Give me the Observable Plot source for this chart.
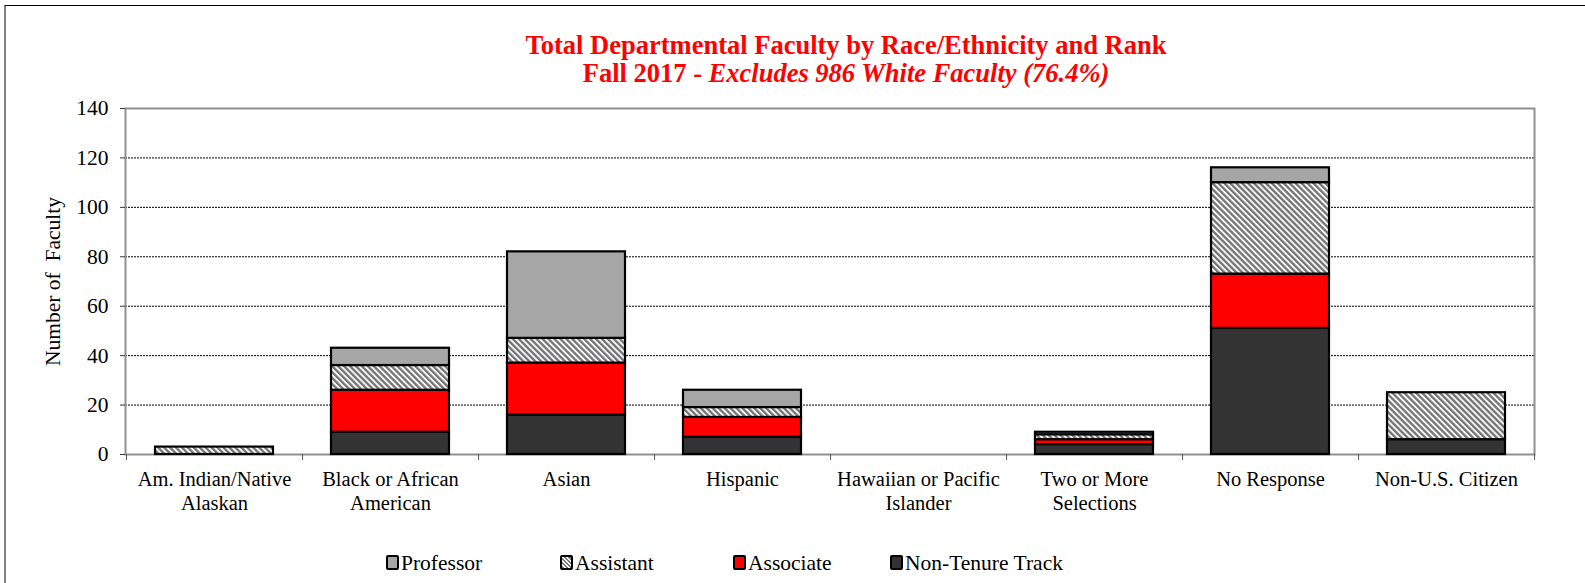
<!DOCTYPE html>
<html>
<head>
<meta charset="utf-8">
<script src="https://cdn.jsdelivr.net/npm/d3@7"></script>
<script src="https://cdn.jsdelivr.net/npm/@observablehq/plot@0.6"></script>
<style>
  html, body { margin: 0; padding: 0; background: #fff; }
  body { width: 1585px; height: 583px; position: relative; overflow: hidden; font-family: "Liberation Serif", "Times New Roman", serif; }
  #outer { position: absolute; left: 4px; top: 5px; width: 1600px; height: 600px; border-top: 1.5px solid #000; border-left: 2px solid #808080; }
  #chart { position: absolute; left: 0; top: 0; }
  div.ttl { position: absolute; left: 0; width: 1692px; text-align: center; color: #ff0000; font-weight: bold; font-size: 26.5px; line-height: 30px; font-family: "Liberation Serif", "Times New Roman", serif; }
  #legend { position: absolute; top: 550px; left: 0; width: 1585px; height: 26px; font-size: 21.5px; line-height: 26px; color: #000; font-family: "Liberation Serif", "Times New Roman", serif; }
  .item { position: absolute; top: 0; white-space: nowrap; }
  .sw { display: inline-block; width: 9px; height: 11px; border: 2px solid #000; border-radius: 2px; vertical-align: 0px; margin-right: 2px; }
</style>
</head>
<body>
<div id="outer"></div>
<div class="ttl" style="top:30px;">Total Departmental Faculty by Race/Ethnicity and Rank</div>
<div class="ttl" style="top:58px;">Fall 2017 - <i>Excludes 986 White Faculty (76.4%)</i></div>
<div id="chart"></div>
<div id="legend"></div>
<script>
const categories = [
  "Am. Indian/Native\nAlaskan",
  "Black or African\nAmerican",
  "Asian",
  "Hispanic",
  "Hawaiian or Pacific\nIslander",
  "Two or More\nSelections",
  "No Response",
  "Non-U.S. Citizen"
];
const series = ["Non-Tenure Track", "Associate", "Assistant", "Professor"];
const nonTenure = [0, 9, 16, 7, 0, 4, 51, 6];
const associate = [0, 17, 21, 8, 0, 2, 22, 0];
const assistant = [3, 10, 10, 4, 0, 2, 37, 19];
const professor = [0, 7, 35, 7, 0, 1, 6, 0];
const yTicks = [0, 20, 40, 60, 80, 100, 120, 140];
const legendOrder = ["Professor", "Assistant", "Associate", "Non-Tenure Track"];

const seriesValues = {
  "Non-Tenure Track": nonTenure,
  "Associate": associate,
  "Assistant": assistant,
  "Professor": professor
};
const fills = ["#333333", "#ff0000", "url(#hatch)", "#a6a6a6"];

const rows = [];
categories.forEach((c, i) => {
  series.forEach(s => {
    const v = seriesValues[s][i];
    if (v > 0) rows.push({category: c, rank: s, value: v});
  });
});

const W = 1585, H = 530;
const mL = 125, mR = 51, mT = 108, mB = H - 454;
const step = (W - mL - mR) / categories.length;
const FONT = "'Liberation Serif', 'Times New Roman', serif";

const plot = Plot.plot({
  width: W,
  height: H,
  marginLeft: mL,
  marginRight: mR,
  marginTop: mT,
  marginBottom: mB,
  style: {fontFamily: FONT, fontSize: "20px", color: "#000", background: "transparent"},
  x: {domain: categories, padding: 0, label: null},
  y: {domain: [0, 140], label: null},
  color: {domain: series, range: fills},
  marks: [
    Plot.gridY(yTicks.filter(d => d > 0), {stroke: "#000", strokeOpacity: 1, strokeWidth: 1, strokeDasharray: "2,1"}),
    Plot.frame({stroke: "#909090", strokeWidth: 2}),
    Plot.axisY(yTicks, {tickSize: 5, tickPadding: 12, fontSize: 21.5, stroke: "#333", label: null}),
    Plot.axisX(categories, {tickSize: 0, tickPadding: 14, fontSize: 20.5, lineHeight: 1.17, label: null}),
    Plot.axisX(categories, {tickSize: 6, dx: step / 2, tickFormat: () => "", stroke: "#555", label: null}),
    Plot.axisX(categories.slice(0, 1), {tickSize: 6, dx: -step / 2, tickFormat: () => "", stroke: "#555", label: null}),
    Plot.barY(rows, Plot.stackY({
      x: "category",
      y: "value",
      fill: "rank",
      z: "rank",
      order: series,
      insetLeft: 29,
      insetRight: 29,
      stroke: "#000",
      strokeWidth: 2.2
    })),
    Plot.text(["Number of  Faculty"], {
      frameAnchor: "left",
      textAnchor: "middle",
      dx: -72,
      rotate: -90,
      fontSize: 21.5,
      text: d => d,
      fill: "#000"
    })
  ]
});

// hatch pattern
const ns = "http://www.w3.org/2000/svg";
const defs = document.createElementNS(ns, "defs");
const pat = document.createElementNS(ns, "pattern");
pat.setAttribute("id", "hatch");
pat.setAttribute("patternUnits", "userSpaceOnUse");
pat.setAttribute("width", "4.2");
pat.setAttribute("height", "4.2");
pat.setAttribute("patternTransform", "rotate(-45)");
const bg = document.createElementNS(ns, "rect");
bg.setAttribute("width", "4.2"); bg.setAttribute("height", "4.2"); bg.setAttribute("fill", "#ffffff");
const st = document.createElementNS(ns, "rect");
st.setAttribute("width", "2.4"); st.setAttribute("height", "4.2"); st.setAttribute("fill", "#777777");
pat.appendChild(bg); pat.appendChild(st); defs.appendChild(pat);
plot.insertBefore(defs, plot.firstChild);

document.getElementById("chart").appendChild(plot);

// legend
const legendX = [386, 560, 733, 890];
const lg = document.getElementById("legend");
legendOrder.forEach((s, i) => {
  const item = document.createElement("div");
  item.className = "item";
  item.style.left = legendX[i] + "px";
  const sw = document.createElement("span");
  sw.className = "sw";
  const f = fills[series.indexOf(s)];
  if (f.startsWith("url")) {
    sw.style.background = "repeating-linear-gradient(45deg, #777 0 1.5px, #fff 1.5px 3px)";
  } else {
    sw.style.background = f;
  }
  item.appendChild(sw);
  item.appendChild(document.createTextNode(s));
  lg.appendChild(item);
});
</script>
</body>
</html>
